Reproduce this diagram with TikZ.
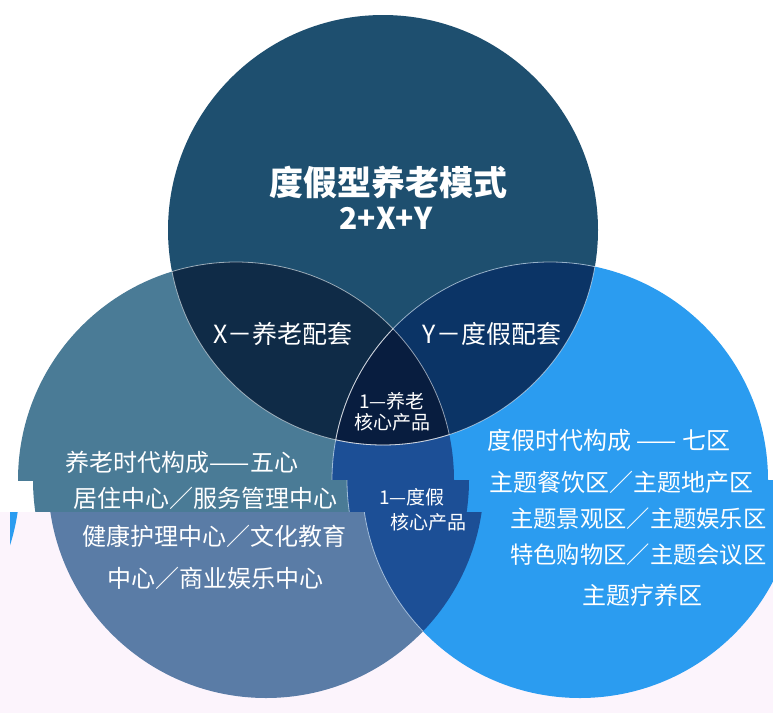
\documentclass[tikz,border=0pt]{standalone}
\usepackage{fontspec}
\setmainfont{Noto Sans CJK SC}
\definecolor{cTop}{HTML}{1E4F6F}
\definecolor{cLeft}{HTML}{4A7B96}
\definecolor{cLeftB}{HTML}{5A7CA6}
\definecolor{cRight}{HTML}{2B9CF0}
\definecolor{cX}{HTML}{0F2B47}
\definecolor{cY}{HTML}{0B3466}
\definecolor{cC}{HTML}{081D3F}
\definecolor{cLR}{HTML}{1C4F96}
\definecolor{bgPink}{HTML}{FCF4FC}
\newcommand\vennscene[1]{%
  \fill[cTop] (383,230) circle[radius=215pt];
  \fill[#1] (236,480) circle[radius=218pt];
  \fill[cRight] (550,480) circle[radius=218pt];
  \begin{scope}
    \clip (383,230) circle[radius=215pt];
    \fill[cX] (236,480) circle[radius=218pt];
    \fill[cY] (550,480) circle[radius=218pt];
  \end{scope}
  \begin{scope}
    \clip (236,480) circle[radius=218pt];
    \fill[cLR] (550,480) circle[radius=218pt];
    \clip (550,480) circle[radius=218pt];
    \fill[cC] (383,230) circle[radius=215pt];
  \end{scope}
  \begin{scope}
    \clip (383,230) circle[radius=215pt];
    \draw[sep] (236,480) circle[radius=218pt];
    \draw[sep] (550,480) circle[radius=218pt];
  \end{scope}
  \begin{scope}
    \clip (236,480) circle[radius=218pt];
    \draw[sep] (383,230) circle[radius=215pt];
    \draw[sep] (550,480) circle[radius=218pt];
  \end{scope}
  \begin{scope}
    \clip (550,480) circle[radius=218pt];
    \draw[sep] (383,230) circle[radius=215pt];
  \end{scope}
}
\begin{document}
\begin{tikzpicture}[x=1pt,y=-1pt,
  sep/.style={white,opacity=0.55,line width=0.8pt},
  lbl/.style={text=white,inner sep=0pt,font=\fontsize{24}{26}\selectfont},
  small/.style={text=white,inner sep=0pt,font=\fontsize{19}{20.5}\selectfont,align=center}]
\useasboundingbox (0,0) rectangle (773,713);
\fill[white] (0,0) rectangle (773,713);
% upper part, unshifted
\begin{scope}
  \clip (0,0) rectangle (773,480);
  \vennscene{cLeft}
\end{scope}
% band shifted by 15
\begin{scope}
  \clip (0,480) rectangle (773,512);
  \begin{scope}[xshift=15pt]\vennscene{cLeft}\end{scope}
\end{scope}
% lower part shifted by 30 (with a small wrapped sliver)
\begin{scope}
  \clip (0,512) rectangle (773,713);
  \fill[bgPink] (0,512) rectangle (773,713);
  \begin{scope}[xshift=30pt]\vennscene{cLeftB}\end{scope}
\end{scope}
\begin{scope}
  \clip (10,512) rectangle (773,713);
  \begin{scope}[xshift=-748pt]\vennscene{cLeftB}\end{scope}
\end{scope}
% texts
\node[text=white,inner sep=0pt,font=\fontsize{34}{36}\selectfont\bfseries] (title) at (388,182) {度假型养老模式};
\node[text=white,inner sep=0pt,font=\fontsize{30}{32}\selectfont\bfseries] (formula) at (386,218) {2+X+Y};
\node[lbl,font=\fontsize{25}{27}\selectfont] (xlab) at (283,334) {X－养老配套};
\node[lbl,font=\fontsize{25}{27}\selectfont] (ylab) at (492,334) {Y－度假配套};
\node[small] (core1) at (392,412) {1—养老\\核心产品};
\node[small] (core2a) at (412,497) {1—度假};
\node[small] (core2b) at (428,522) {核心产品};
\node[lbl] (l1) at (182,462) {养老时代构成——五心};
\node[lbl] (l2) at (205,498) {居住中心／服务管理中心};
\node[lbl] (l3) at (214,536) {健康护理中心／文化教育};
\node[lbl] (l4) at (215,578) {中心／商业娱乐中心};
\node[lbl] (r1) at (609,440) {度假时代构成 —— 七区};
\node[lbl] (r2) at (621,482) {主题餐饮区／主题地产区};
\node[lbl,anchor=west,font=\fontsize{23.3}{25}\selectfont] (r3) at (510,519) {主题景观区／主题娱乐区};
\node[lbl,anchor=west,font=\fontsize{23.3}{25}\selectfont] (r4) at (510,555) {特色购物区／主题会议区};
\node[lbl] (r5) at (642,595) {主题疗养区};
\end{tikzpicture}
\end{document}
